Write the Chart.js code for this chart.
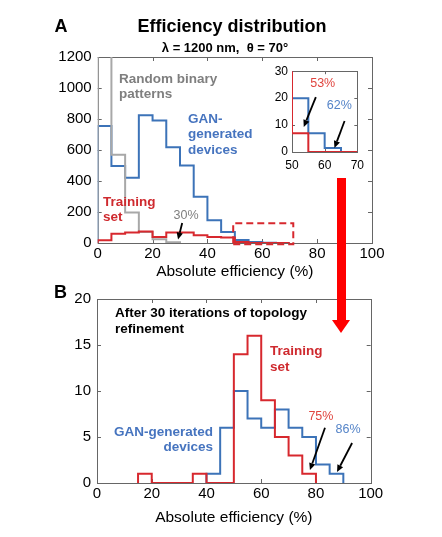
<!DOCTYPE html>
<html><head><meta charset="utf-8">
<script src="https://cdn.jsdelivr.net/npm/chart.js@4.4.1/dist/chart.umd.min.js"></script>
<style>
html,body{margin:0;padding:0;background:#fff;width:442px;height:537px;overflow:hidden;}
canvas{position:absolute;display:block;}
#arrowShaft{position:absolute;left:337px;top:178px;width:9px;height:144px;background:#ff0000;z-index:5}
#arrowHead{position:absolute;left:332px;top:320px;width:0;height:0;border-left:9.5px solid transparent;border-right:9.5px solid transparent;border-top:13px solid #ff0000;z-index:5}
</style></head>
<body>
<canvas id="cA" width="442" height="285" style="left:0;top:0"></canvas>
<canvas id="cB" width="442" height="257" style="left:0;top:280px"></canvas>
<canvas id="cI" width="120" height="120" style="left:250px;top:60px"></canvas>
<div id="arrowShaft"></div><div id="arrowHead"></div>
<script>
// ---------------- data ----------------
const BIN_WIDTH = 5; // %
// Panel A: bin starts (%) and counts
const binsA = [0,5,10,15,20,25,30,35,40,45,50,55,60,65];
const ganA = [755,496,421,825,790,617,500,298,147,71,20,7,1.5,0];
const trainingA = [17,60,67,75,39,67,67,50,39,35,7,0,0,0];
const randomBinsA = [0,5,10,15,20,25];
const randomA = [2500,570,196,71,25,5];
// Panel B: after 30 iterations of topology refinement
const trainingBinsB = [15,20,25,30,35,40,45,50,55,60,65,70,75];
const trainingB = [1,0,0,0,1,0,0,14,16,9,5,3,1];
const ganBinsB = [40,45,50,55,60,65,70,75,80,85];
const ganB = [1,6,10,7,6,8,6,5,2,1];
// ticks
const xTicks = [0,20,40,60,80,100];
const yTicksA = [0,200,400,600,800,1000,1200];
const yTicksB = [0,5,10,15,20];
const xTicksInset = [50,60,70];
const yTicksInset = [0,10,20,30];
// highlighted (zoomed) region in panel A, data units
const zoomRegionX = [49.4, 71.3];
const zoomRegionY = [-8, 127];

// ---------------- styles ----------------
const RED = '#d7282e', BLUE = '#3c73b8', GRAY = '#a8a8a8';
const RED_T = '#cf2a2f', BLUE_T = '#4674bf', GRAY_T = '#7f7f7f';
const RED_L = '#e0453f', BLUE_L = '#5584c8';
const FONT = "'Liberation Sans', Arial, Helvetica, sans-serif";
const AXIS = '#666666';

function steps(starts, counts){
  const pts = [{x: starts[0], y: 0}];
  counts.forEach((c, i) => pts.push({x: starts[i], y: c}));
  pts.push({x: starts[starts.length-1] + BIN_WIDTH, y: 0});
  return pts;
}
function histDS(label, starts, counts, color){
  return {label, data: steps(starts, counts), borderColor: color, borderWidth: 2,
          stepped: true, pointRadius: 0, fill: false, tension: 0};
}

// box + inward ticks (MATLAB-like)
function boxPlugin(tickLen){
  return {
    id: 'box',
    beforeDatasetsDraw(chart){
      const {ctx, chartArea: a, scales: {x, y}} = chart;
      ctx.save();
      ctx.strokeStyle = AXIS; ctx.lineWidth = 1;
      ctx.strokeRect(Math.round(a.left)+0.5, Math.round(a.top)+0.5,
                     Math.round(a.right-a.left), Math.round(a.bottom-a.top));
      ctx.beginPath();
      x.ticks.forEach(t => {
        const px = Math.round(x.getPixelForValue(t.value)) + 0.5;
        ctx.moveTo(px, a.bottom); ctx.lineTo(px, a.bottom - tickLen);
        ctx.moveTo(px, a.top); ctx.lineTo(px, a.top + tickLen);
      });
      y.ticks.forEach(t => {
        const py = Math.round(y.getPixelForValue(t.value)) + 0.5;
        ctx.moveTo(a.left, py); ctx.lineTo(a.left + tickLen, py);
        ctx.moveTo(a.right, py); ctx.lineTo(a.right - tickLen, py);
      });
      ctx.stroke();
      ctx.restore();
    }
  };
}

function drawArrow(ctx, x1, y1, x2, y2){
  const ang = Math.atan2(y2-y1, x2-x1), hl = 7, hw = 3.2;
  const bx = x2 - hl*Math.cos(ang), by = y2 - hl*Math.sin(ang);
  ctx.strokeStyle = '#000'; ctx.fillStyle = '#000'; ctx.lineWidth = 1.8;
  ctx.beginPath(); ctx.moveTo(x1, y1); ctx.lineTo(bx, by); ctx.stroke();
  ctx.beginPath(); ctx.moveTo(x2, y2);
  ctx.lineTo(bx + hw*Math.sin(ang), by - hw*Math.cos(ang));
  ctx.lineTo(bx - hw*Math.sin(ang), by + hw*Math.cos(ang));
  ctx.closePath(); ctx.fill();
}

// annotations in data coordinates
function annotPlugin(texts, arrows, extra){
  return {
    id: 'annot',
    afterDatasetsDraw(chart){
      const {ctx, scales: {x, y}} = chart;
      ctx.save();
      texts.forEach(t => {
        ctx.font = `${t.weight||'normal'} ${t.size}px ${FONT}`;
        ctx.fillStyle = t.color; ctx.textAlign = t.align || 'left'; ctx.textBaseline = 'middle';
        const px = x.getPixelForValue(t.x), py = y.getPixelForValue(t.y);
        t.lines.forEach((l, i) => ctx.fillText(l, px, py + i*(t.lh||15)));
      });
      arrows.forEach(a => drawArrow(ctx, x.getPixelForValue(a[0]), y.getPixelForValue(a[1]),
                                         x.getPixelForValue(a[2]), y.getPixelForValue(a[3])));
      if (extra) extra(ctx);
      ctx.restore();
    }
  };
}

function baseScales(opts){
  return {
    x: {type: 'linear', min: opts.xmin, max: opts.xmax,
        afterBuildTicks: s => { s.ticks = opts.xt.map(v => ({value: v})); },
        grid: {display: false, drawTicks: false}, border: {display: false},
        ticks: {color: '#000', padding: opts.xpad, font: {family: FONT, size: opts.fs}, callback: v => String(v)},
        title: opts.title ? {display: true, text: opts.title, color: '#000', padding: {top: 0, bottom: opts.tpad},
               font: {family: FONT, size: 15.5}} : {display: false},
        afterFit: s => { s.height = opts.xh; }},
    y: {type: 'linear', min: opts.ymin, max: opts.ymax,
        afterBuildTicks: s => { s.ticks = opts.yt.map(v => ({value: v})); },
        grid: {display: false, drawTicks: false}, border: {display: false},
        ticks: {color: '#000', padding: opts.ypad, font: {family: FONT, size: opts.fs}, callback: v => String(v)},
        afterFit: s => { s.width = opts.yw; }}
  };
}
const common = {responsive: false, animation: false, devicePixelRatio: 1,
  plugins: {legend: {display: false}, tooltip: {enabled: false}}};

// ---------------- Panel A ----------------
new Chart(document.getElementById('cA'), {
  type: 'line',
  data: {datasets: [
    {label: 'zoom region', data: [
      {x: zoomRegionX[0], y: zoomRegionY[0]}, {x: zoomRegionX[1], y: zoomRegionY[0]},
      {x: zoomRegionX[1], y: zoomRegionY[1]}, {x: zoomRegionX[0], y: zoomRegionY[1]},
      {x: zoomRegionX[0], y: zoomRegionY[0]}],
     borderColor: RED, borderWidth: 2, borderDash: [7, 4], pointRadius: 0, fill: false, clip: 6},
    histDS('Training set', binsA, trainingA, RED),
    histDS('Random binary patterns', randomBinsA, randomA, GRAY),
    histDS('GAN-generated devices', binsA, ganA, BLUE)
  ]},
  options: Object.assign({}, common, {
    layout: {padding: {left: 0, right: 70, top: 57, bottom: 0}},
    scales: baseScales({xmin: 0, xmax: 100, ymin: 0, ymax: 1200, xt: xTicks, yt: yTicksA,
      xpad: 2, ypad: 6, fs: 15, xh: 42, yw: 97.7, title: 'Absolute efficiency (%)', tpad: 4})
  }),
  plugins: [boxPlugin(4), annotPlugin([
      {lines: ['Random binary', 'patterns'], x: 7.8, y: 1058, color: GRAY_T, size: 13.5, weight: 'bold', lh: 15},
      {lines: ['GAN-', 'generated', 'devices'], x: 32.9, y: 800, color: BLUE_T, size: 13.5, weight: 'bold', lh: 15.5},
      {lines: ['Training', 'set'], x: 1.9, y: 265, color: RED_T, size: 13.5, weight: 'bold', lh: 15},
      {lines: ['30%'], x: 32.2, y: 177, color: GRAY_T, size: 12.5, align: 'center'}
    ], [[30.8, 129, 29.3, 22]],
    ctx => {
      ctx.fillStyle = '#000'; ctx.textBaseline = 'alphabetic';
      ctx.font = `bold 18px ${FONT}`; ctx.textAlign = 'left'; ctx.fillText('A', 54.5, 32);
      ctx.textAlign = 'center'; ctx.fillText('Efficiency distribution', 232, 32);
      ctx.font = `bold 13px ${FONT}`; ctx.fillText('\u03bb = 1200 nm,  \u03b8 = 70\u00b0', 225, 51.5);
    })]
});

// ---------------- Inset ----------------
new Chart(document.getElementById('cI'), {
  type: 'line',
  data: {datasets: [
    histDS('Training set', binsA, trainingA, RED),
    histDS('GAN-generated devices', binsA, ganA, BLUE)
  ]},
  options: Object.assign({}, common, {
    layout: {padding: {left: 0, right: 12, top: 11, bottom: 0}},
    scales: baseScales({xmin: 50, xmax: 70, ymin: 0, ymax: 30, xt: xTicksInset, yt: yTicksInset,
      xpad: 6, ypad: 4, fs: 12, xh: 28, yw: 42, title: null})
  }),
  plugins: [{id: 'bg', beforeDraw(c){ const a = c.chartArea, ctx = c.ctx; ctx.save(); ctx.fillStyle = '#fff';
              ctx.fillRect(a.left, a.top, a.right-a.left, a.bottom-a.top); ctx.restore(); }},
    boxPlugin(3), annotPlugin([
      {lines: ['53%'], x: 59.4, y: 25.6, color: RED_L, size: 12.5, align: 'center'},
      {lines: ['62%'], x: 64.5, y: 17.4, color: BLUE_L, size: 12.5, align: 'center'}
    ], [[57.3, 20.4, 53.6, 9.3], [66.1, 11.5, 63, 1.5]])]
});

// ---------------- Panel B ----------------
new Chart(document.getElementById('cB'), {
  type: 'line',
  data: {datasets: [
    histDS('Training set', trainingBinsB, trainingB, RED),
    histDS('GAN-generated devices', ganBinsB, ganB, BLUE)
  ]},
  options: Object.assign({}, common, {
    layout: {padding: {left: 0, right: 71.3, top: 19, bottom: 0}},
    scales: baseScales({xmin: 0, xmax: 100, ymin: 0, ymax: 20, xt: xTicks, yt: yTicksB,
      xpad: 2, ypad: 6, fs: 15, xh: 54, yw: 97, title: 'Absolute efficiency (%)', tpad: 10})
  }),
  plugins: [boxPlugin(4), annotPlugin([
      {lines: ['After 30 iterations of topology', 'refinement'], x: 6.6, y: 18.5, color: '#000', size: 13.5, weight: 'bold', lh: 16},
      {lines: ['Training', 'set'], x: 63.2, y: 14.35, color: RED_T, size: 13.5, weight: 'bold', lh: 16},
      {lines: ['GAN-generated', 'devices'], x: 42.4, y: 5.5, color: BLUE_T, size: 13.5, weight: 'bold', lh: 14.5, align: 'right'},
      {lines: ['75%'], x: 81.8, y: 7.2, color: RED_L, size: 12.5, align: 'center'},
      {lines: ['86%'], x: 91.7, y: 5.8, color: BLUE_L, size: 12.5, align: 'center'}
    ], [[83.3, 6.0, 77.8, 1.4], [93.2, 4.35, 87.7, 1.2]],
    ctx => {
      ctx.fillStyle = '#000'; ctx.textBaseline = 'alphabetic'; ctx.textAlign = 'left';
      ctx.font = `bold 18px ${FONT}`; ctx.fillText('B', 54, 18);
    })]
});
</script>
</body></html>
